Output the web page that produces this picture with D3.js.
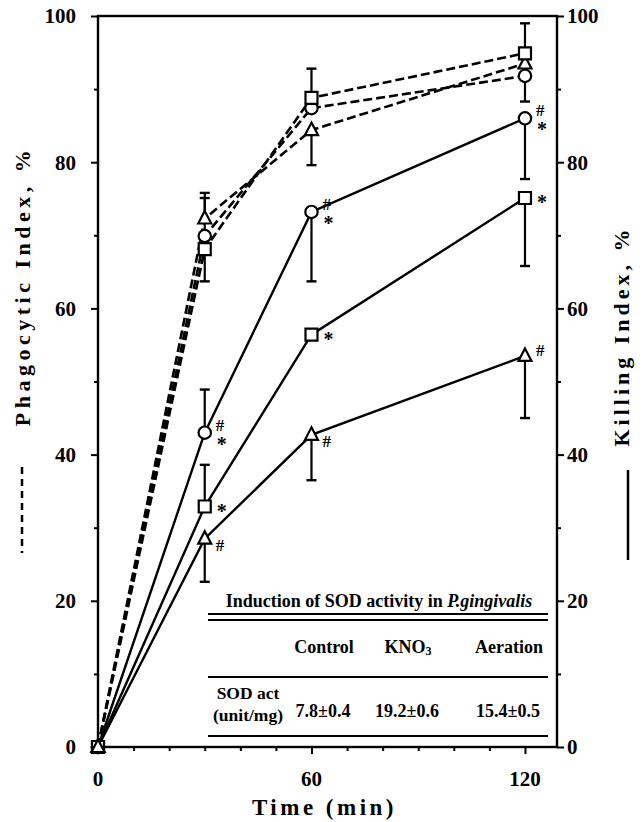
<!DOCTYPE html>
<html><head><meta charset="utf-8">
<script src="https://cdn.jsdelivr.net/npm/d3@7"></script>
<style>
html,body{margin:0;padding:0;background:#fff;}
text{font-family:"Liberation Serif","Times New Roman",serif;font-weight:bold;fill:#000;}
</style></head><body>
<svg id="c" width="643" height="822"></svg>
<script>
// ---- data ----
const times = [0, 30, 60, 120];
// Phagocytic index (dashed, left axis)
const phagCircle   = [0, 69.9, 87.4, 91.8];
const phagSquare   = [0, 68.1, 88.8, 94.9];
const phagTriangle = [0, 72.3, 84.4, 93.5];
// Killing index (solid, right axis)
const killCircle   = [0, 43.0, 73.2, 86.0];
const killSquare   = [0, 32.9, 56.4, 75.1];
const killTriangle = [0, 28.5, 42.7, 53.5];
// error bar ends (null = not drawn)
const phagCircleErr   = [null, 75.1, null, 88.3];
const phagSquareErr   = [null, 63.7, 92.8, 99.0];
const phagTriangleErr = [null, 75.8, 79.6, null];
const killCircleErr   = [null, 48.9, 63.7, 77.7];
const killSquareErr   = [null, 38.6, null, 65.8];
const killTriangleErr = [null, 22.6, 36.5, 45.0];
// significance marks
const killCircleSig   = ["", "#*", "#*", "#*"];
const killSquareSig   = ["", "*", "*", "*"];
const killTriangleSig = ["", "#", "#", "#"];
const xTickLabels = [0, 60, 120];
const yTickLabels = [0, 20, 40, 60, 80, 100];
const tableTitle = "Induction of SOD activity in ";
const tableTitleItalic = "P.gingivalis";
const tableCols = ["Control", "KNO", "Aeration"];
const tableRowLabel = ["SOD act", "(unit/mg)"];
const tableVals = ["7.8±0.4", "19.2±0.6", "15.4±0.5"];

// ---- layout ----
const svg = d3.select("#c");
const L = 98, R = 557, T = 16, B = 747;
const x = d3.scaleLinear().domain([0, 129]).range([L, R]);
const yL = d3.scaleLinear().domain([0, 100]).range([B, T]);
const yR = d3.scaleLinear().domain([0, 100]).range([B, T]);

// frame
svg.append("rect").attr("x", L).attr("y", T).attr("width", R - L).attr("height", B - T)
  .attr("fill", "none").attr("stroke", "#000").attr("stroke-width", 2.4);

// axes
const fontTick = "21px";
const gL = svg.append("g").attr("transform", `translate(${L},0)`)
  .call(d3.axisLeft(yL).tickValues(d3.range(0, 101, 10)).tickSize(0).tickFormat(""));
gL.select(".domain").remove();
gL.selectAll(".tick line").attr("x2", d => d % 20 === 0 ? -7 : -4).attr("stroke-width", 2);
svg.append("g").selectAll("text").data(yTickLabels).join("text")
  .attr("x", L - 22).attr("y", d => yL(d)).attr("dy", "0.35em")
  .attr("text-anchor", "end").style("font-size", fontTick).text(d => d);

const gR = svg.append("g").attr("transform", `translate(${R},0)`)
  .call(d3.axisRight(yR).tickValues(d3.range(0, 101, 10)).tickSize(0).tickFormat(""));
gR.select(".domain").remove();
gR.selectAll(".tick line").attr("x2", d => d % 20 === 0 ? 7 : 4).attr("stroke-width", 2);
svg.append("g").selectAll("text").data(yTickLabels).join("text")
  .attr("x", R + 10).attr("y", d => yR(d)).attr("dy", "0.35em")
  .attr("text-anchor", "start").style("font-size", fontTick).text(d => d);

const gB = svg.append("g").attr("transform", `translate(0,${B})`)
  .call(d3.axisBottom(x).tickValues(d3.range(0, 130, 10)).tickSize(0).tickFormat(""));
gB.select(".domain").remove();
gB.selectAll(".tick line").attr("y2", d => d % 60 === 0 ? 7 : 4).attr("stroke-width", 2);
svg.append("g").selectAll("text").data(xTickLabels).join("text")
  .attr("x", d => x(d)).attr("y", 786).attr("text-anchor", "middle")
  .style("font-size", fontTick).text(d => d);

// axis titles
svg.append("text").attr("x", x(60) + 13).attr("y", 815).attr("text-anchor", "middle")
  .style("font-size", "23px").style("letter-spacing", "3.5px").text("Time (min)");
svg.append("text").attr("transform", "translate(30,286) rotate(-90)").attr("text-anchor", "middle")
  .style("font-size", "22px").style("letter-spacing", "4.5px").text("Phagocytic Index, %");
svg.append("line").attr("x1", 22).attr("x2", 22).attr("y1", 467).attr("y2", 553)
  .attr("stroke", "#000").attr("stroke-width", 2.5).attr("stroke-dasharray", "7,5");
svg.append("text").attr("transform", "translate(629,336) rotate(-90)").attr("text-anchor", "middle")
  .style("font-size", "22px").style("letter-spacing", "4px").text("Killing Index, %");
svg.append("line").attr("x1", 628).attr("x2", 628).attr("y1", 470).attr("y2", 560)
  .attr("stroke", "#000").attr("stroke-width", 2.5);

// series
const series = [
  {vals: phagCircle, err: phagCircleErr, y: yL, dash: true, shape: "circle"},
  {vals: phagTriangle, err: phagTriangleErr, y: yL, dash: true, shape: "triangle"},
  {vals: phagSquare, err: phagSquareErr, y: yL, dash: true, shape: "square"},
  {vals: killCircle, err: killCircleErr, y: yR, dash: false, shape: "circle", sig: killCircleSig},
  {vals: killSquare, err: killSquareErr, y: yR, dash: false, shape: "square", sig: killSquareSig},
  {vals: killTriangle, err: killTriangleErr, y: yR, dash: false, shape: "triangle", sig: killTriangleSig}
];
const line = d3.line();
const gErr = svg.append("g"), gLines = svg.append("g"), gMarks = svg.append("g"), gSig = svg.append("g");
series.forEach(s => {
  const pts = times.map((t, i) => [x(t), s.y(s.vals[i])]);
  gLines.append("path").attr("d", line(pts)).attr("fill", "none").attr("stroke", "#000")
    .attr("stroke-width", s.dash ? 2.6 : 2.4).attr("stroke-dasharray", s.dash ? "9,4" : null);
  s.err.forEach((e, i) => {
    if (e === null) return;
    const cx = x(times[i]);
    gErr.append("line").attr("x1", cx).attr("x2", cx).attr("y1", s.y(s.vals[i])).attr("y2", s.y(e))
      .attr("stroke", "#000").attr("stroke-width", 2.2);
    gErr.append("line").attr("x1", cx - 5).attr("x2", cx + 5).attr("y1", s.y(e)).attr("y2", s.y(e))
      .attr("stroke", "#000").attr("stroke-width", 2.4);
  });
  pts.forEach(([px, py]) => {
    const m = gMarks.append("path").attr("fill", "#fff").attr("stroke", "#000").attr("stroke-width", 2.2)
      .attr("transform", `translate(${px},${py})`);
    if (s.shape === "circle") m.attr("d", d3.symbol(d3.symbolCircle, 120)());
    else if (s.shape === "square") m.attr("d", "M-6,-6H6V6H-6Z");
    else m.attr("d", "M0,-7.5L6.5,5H-6.5Z");
  });
  if (s.sig) s.sig.forEach((sg, i) => {
    if (!sg) return;
    const px = x(times[i]) + 11, py = s.y(s.vals[i]);
    if (sg === "#*") {
      gSig.append("text").attr("x", px).attr("y", py - 2).style("font-size", "17px").text("#");
      gSig.append("text").attr("x", px + 1).attr("y", py + 18).style("font-size", "20px").text("*");
    } else if (sg === "*") {
      gSig.append("text").attr("x", px + 1).attr("y", py + 11).style("font-size", "20px").text("*");
    } else {
      gSig.append("text").attr("x", px).attr("y", py + (i === 3 ? 0 : 12)).style("font-size", "17px").text("#");
    }
  });
});

// table
const tf = "18px";
const tbl = svg.append("g");
const tL = 208, tR = 548;
const tt = tbl.append("text").attr("x", 379).attr("y", 607).attr("text-anchor", "middle").style("font-size", tf);
tt.append("tspan").text(tableTitle);
tt.append("tspan").style("font-style", "italic").text(tableTitleItalic);
[614, 620, 677, 736].forEach(yy => tbl.append("line").attr("x1", tL).attr("x2", tR).attr("y1", yy).attr("y2", yy)
  .attr("stroke", "#000").attr("stroke-width", 2.2));
const colX = [324, 408, 509];
tableCols.forEach((c, i) => {
  const t = tbl.append("text").attr("x", colX[i]).attr("y", 653).attr("text-anchor", "middle").style("font-size", tf).text(c);
  if (c === "KNO") t.append("tspan").style("font-size", "12px").attr("dy", 2).text("3");
});
tbl.append("text").attr("x", 248).attr("y", 699).attr("text-anchor", "middle").style("font-size", "17.5px").text(tableRowLabel[0]);
tbl.append("text").attr("x", 248).attr("y", 721).attr("text-anchor", "middle").style("font-size", "17.5px").text(tableRowLabel[1]);
tableVals.forEach((v, i) => tbl.append("text").attr("x", colX[i] - 1).attr("y", 717).attr("text-anchor", "middle").style("font-size", "18px").text(v));
</script></body></html>
